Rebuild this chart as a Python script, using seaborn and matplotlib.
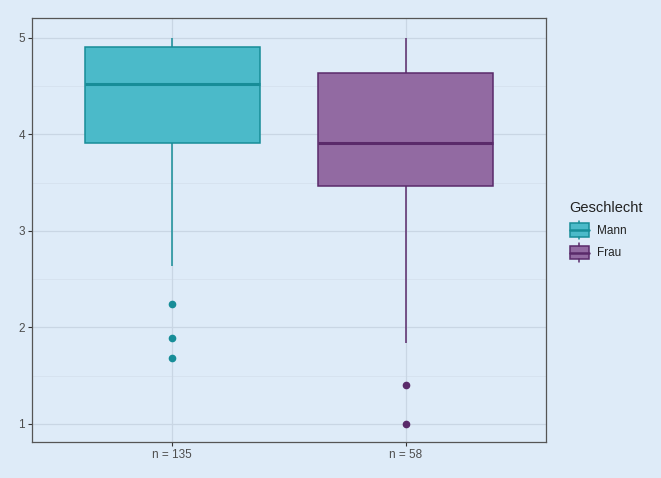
import numpy as np
import pandas as pd
import matplotlib
matplotlib.use("Agg")
import matplotlib.pyplot as plt
import seaborn as sns
from matplotlib.legend_handler import HandlerBase
from matplotlib.patches import Rectangle
from matplotlib.lines import Line2D

# ---- data ----
groups = ["Mann", "Frau"]
tick_labels = ["n = 135", "n = 58"]
q1 = [3.91, 3.47]
median = [4.52, 3.91]
q3 = [4.91, 4.64]
whisker_low = [2.64, 1.84]
whisker_high = [5.0, 5.0]
outliers = [[1.68, 1.89, 2.24], [1.0, 1.40]]

fill_colors = ["#4bbac9", "#926aa2"]
edge_colors = ["#178d98", "#5a2a6a"]
bg = "#deebf8"
grid_major = "#c9d6e4"
grid_minor = "#d5e1ee"
text_col = "#4d4d4d"

# build a small sample per group whose box statistics equal the values above
k = 4
rows = []
for i, g in enumerate(groups):
    n = 4 * k + 1
    vals = [None] * n
    out = sorted(outliers[i])
    for j in range(n):
        if j < len(out):
            vals[j] = out[j]
        elif j < k:
            vals[j] = whisker_low[i]
        elif j < 2 * k:
            vals[j] = q1[i]
        elif j < 3 * k:
            vals[j] = median[i]
        elif j < 4 * k:
            vals[j] = q3[i]
        else:
            vals[j] = whisker_high[i]
    for v in vals:
        rows.append({"Geschlecht": g, "label": tick_labels[i], "value": v})
df = pd.DataFrame(rows)

sns.set_theme(style="white")
plt.rcParams["font.family"] = ["Liberation Sans", "DejaVu Sans"]

fig = plt.figure(figsize=(6.61, 4.78), dpi=100, facecolor=bg)
ax = fig.add_axes([32 / 661, 1 - 442 / 478, (546 - 32) / 661, (442 - 18) / 478])
ax.set_facecolor(bg)

# grid
for y in [1, 2, 3, 4, 5]:
    ax.axhline(y, color=grid_major, lw=0.9, zorder=0)
for y in [1.5, 2.5, 3.5, 4.5]:
    ax.axhline(y, color=grid_minor, lw=0.6, zorder=0)
for x in [0, 1]:
    ax.axvline(x, color=grid_major, lw=0.9, zorder=0)

for i, g in enumerate(groups):
    sub = df[df["Geschlecht"] == g]
    sns.boxplot(
        data=sub, x="label", y="value", order=tick_labels, ax=ax,
        color=fill_colors[i], linecolor=edge_colors[i], saturation=1,
        width=0.75, linewidth=1.1, whis=1.5,
        medianprops=dict(linewidth=2.2, color=edge_colors[i]),
        whiskerprops=dict(linewidth=1.1, color=edge_colors[i]),
        capprops=dict(linewidth=0),
        flierprops=dict(marker="o", markersize=4.5, markerfacecolor=edge_colors[i],
                        markeredgecolor=edge_colors[i]),
        zorder=2,
    )

ax.set_xlim(-0.6, 1.6)
ax.set_ylim(0.813, 5.207)
ax.set_yticks([1, 2, 3, 4, 5])
ax.set_xticks([0, 1])
ax.set_xticklabels(tick_labels)
ax.set_xlabel("")
ax.set_ylabel("")
ax.tick_params(axis="both", bottom=True, left=True, colors="#333333", labelsize=8.5,
               length=3, width=0.8, labelcolor=text_col, pad=2)
for s in ax.spines.values():
    s.set_visible(True)
    s.set_color("#555555")
    s.set_linewidth(0.9)


class BoxKeyHandler(HandlerBase):
    def __init__(self, fc, ec):
        super().__init__()
        self.fc, self.ec = fc, ec

    def create_artists(self, legend, orig_handle, xdescent, ydescent, width, height, fontsize, trans):
        x0 = -xdescent
        w = width
        cx = x0 + w / 2
        y0 = -ydescent
        h = height
        r = Rectangle((x0, y0), w, h,
                      facecolor=self.fc, edgecolor=self.ec, lw=1.1, transform=trans)
        m = Line2D([x0, x0 + w], [y0 + h / 2] * 2,
                   color=self.ec, lw=1.8, transform=trans)
        w1 = Line2D([cx, cx], [y0 - h * 0.2, y0],
                    color=self.ec, lw=1.1, transform=trans)
        w2 = Line2D([cx, cx], [y0 + h, y0 + h * 1.2],
                    color=self.ec, lw=1.1, transform=trans)
        return [r, m, w1, w2]


handles = [Rectangle((0, 0), 1, 1), Rectangle((0, 0), 1.1, 1)]
leg = fig.legend(
    handles, groups, title="Geschlecht",
    handler_map={handles[0]: BoxKeyHandler(fill_colors[0], edge_colors[0]),
                 handles[1]: BoxKeyHandler(fill_colors[1], edge_colors[1])},
    loc="upper left", bbox_to_anchor=(559 / 661, 1 - 190 / 478),
    frameon=False, fontsize=8.5, title_fontsize=10.5,
    handlelength=1.65, handleheight=1.35, labelspacing=0.75, handletextpad=0.65,
    borderaxespad=0.5,
)
leg._legend_box.align = "left"
leg.get_title().set_color("#222222")
for t in leg.get_texts():
    t.set_color("#222222")

fig.savefig("out.png", dpi=100, facecolor=bg)
